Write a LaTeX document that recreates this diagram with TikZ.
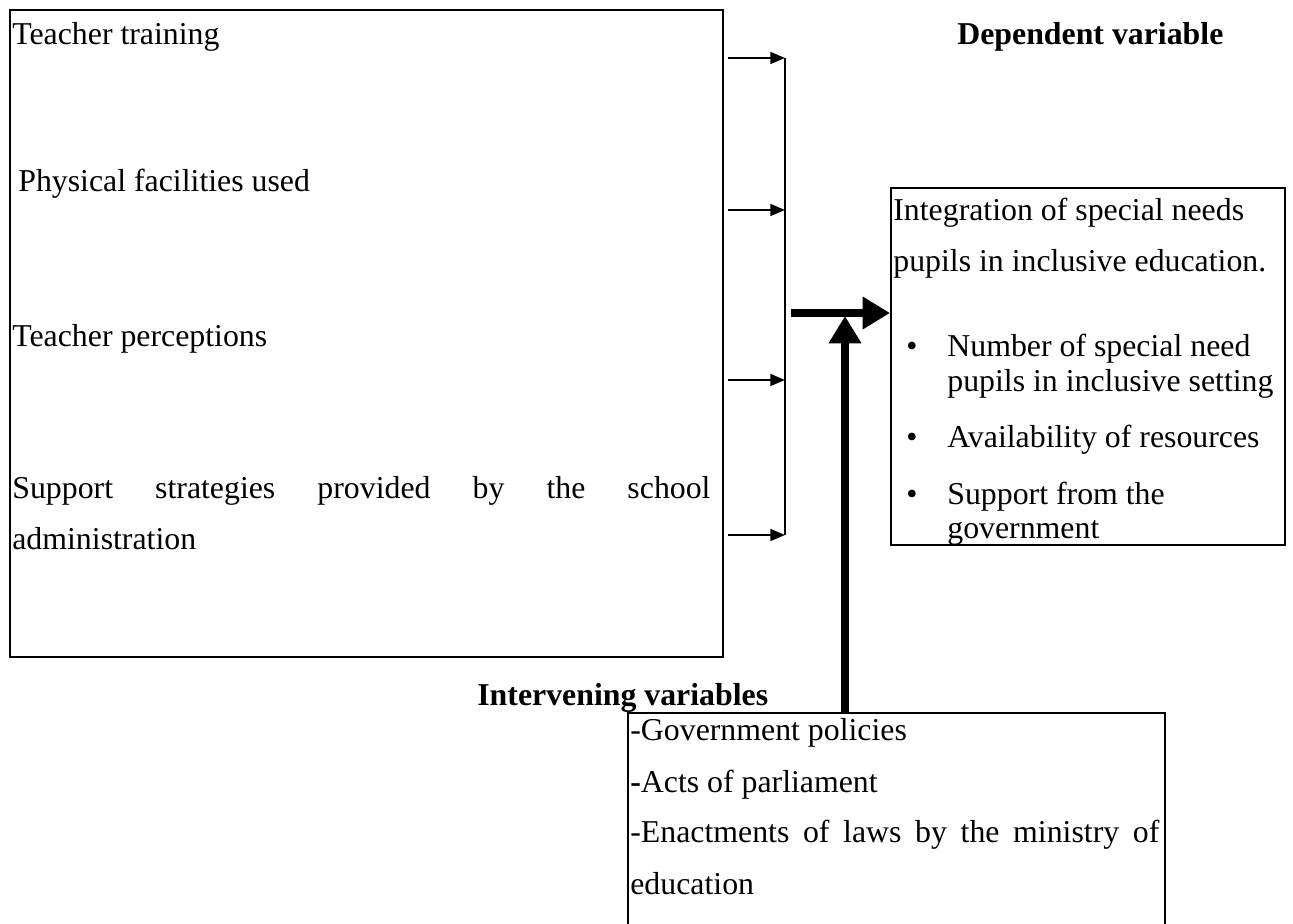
\documentclass[tikz,border=0pt]{standalone}
\usepackage{fontspec}
\setmainfont{Liberation Serif}
\usetikzlibrary{arrows.meta}
\newcommand\spreadline[2]{\hbox to #1{#2}}
\tikzset{
  lbl/.style={anchor=base west,inner sep=0pt,font=\fontsize{17.5}{21}\selectfont},
  blbl/.style={lbl,font=\fontsize{17.5}{21}\selectfont\bfseries},
  thin/.style={line width=1.1pt,-{Triangle[length=8pt,width=6.5pt]}},
  thick/.style={line width=4.4pt,-{Triangle[length=15pt,width=17pt]}},
  box/.style={draw,line width=0.7pt}
}
\begin{document}
\begin{tikzpicture}[x=0.55pt,y=-0.55pt]
\useasboundingbox (0,0) rectangle (1293,924);
% left box
\draw[box,line width=0.9pt] (10,10) rectangle (723,657);
\node[lbl] (t1) at (12,45) {Teacher training};
\node[lbl] (t2) at (18,192) {Physical facilities used};
\node[lbl] (t3) at (12,347) {Teacher perceptions};
\node[lbl] (t4) at (12,499) {\spreadline{384pt}{Support\hfill strategies\hfill provided\hfill by\hfill the\hfill school}};
\node[lbl] (t5) at (12,550) {administration};
% collector
\coordinate (v1) at (785,58);
\coordinate (v2) at (785,210);
\coordinate (v3) at (785,380);
\coordinate (v4) at (785,535);
\coordinate (s1) at (728,58);
\coordinate (s2) at (728,210);
\coordinate (s3) at (728,380);
\coordinate (s4) at (728,535);
\draw[line width=0.9pt] (v1) -- (v4);
\draw[thin] (s1) -- (v1);
\draw[thin] (s2) -- (v2);
\draw[thin] (s3) -- (v3);
\draw[thin] (s4) -- (v4);
% dependent
\node[blbl] (dv) at (957,45) {Dependent variable};
\draw[box] (891,188) rectangle (1285,545);
\coordinate (rin) at (890,313);
\node[lbl] (r1) at (893,221) {Integration of special needs};
\node[lbl] (r2) at (893,272) {pupils in inclusive education.};
\node[lbl] (b1) at (906,357) {\textbullet};
\node[lbl] (r3) at (947,357) {Number of special need};
\node[lbl] (r4) at (947,392) {pupils in inclusive setting};
\node[lbl] (b2) at (906,448) {\textbullet};
\node[lbl] (r5) at (947,448) {Availability of resources};
\node[lbl] (b3) at (906,505) {\textbullet};
\node[lbl] (r6) at (947,505) {Support from the};
\node[lbl] (r7) at (947,539) {government};
% thick arrows
\coordinate (hstart) at (791,313);
\draw[thick] (hstart) -- (rin);
\coordinate (vbot) at (845,713);
\coordinate (vtop) at (845,316);
\draw[thick] (vbot) -- (vtop);
% intervening
\node[blbl] (iv) at (477,706) {Intervening variables};
\draw[box] (628,924) -- (628,713) -- (1165,713) -- (1165,924);
\node[lbl] (i1) at (630,741) {-Government policies};
\node[lbl] (i2) at (630,792) {\textbf{-}Acts of parliament};
\node[lbl] (i3) at (630,843) {\spreadline{291pt}{-Enactments\hfill of\hfill laws\hfill by\hfill the\hfill ministry\hfill of}};
\node[lbl] (i4) at (630,894) {education};
\end{tikzpicture}
\end{document}
